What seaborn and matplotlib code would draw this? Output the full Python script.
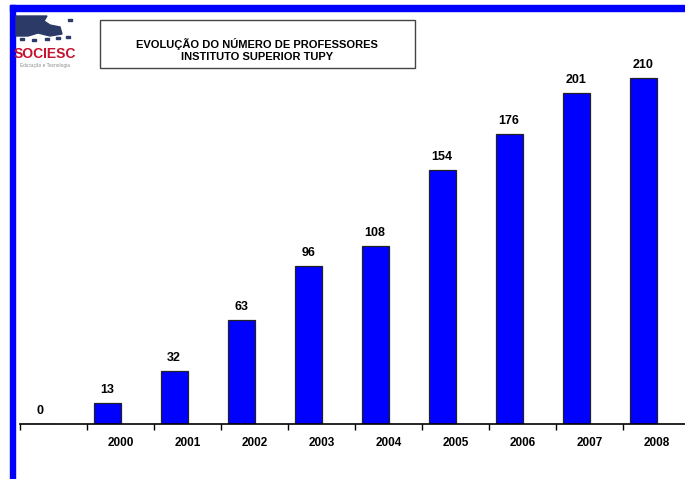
import numpy as np
import pandas as pd
import matplotlib
matplotlib.use("Agg")
import matplotlib.pyplot as plt
import matplotlib.patches as mpatches
import seaborn as sns

# --- data ---
anos = ["", "2000", "2001", "2002", "2003", "2004", "2005", "2006", "2007", "2008"]
professores = [0, 13, 32, 63, 96, 108, 154, 176, 201, 210]
# second (empty) series in the original chart pushes the bars left in each slot
vazio = [np.nan] * len(anos)

df = pd.DataFrame({
    "ano": anos * 2,
    "valor": professores + vazio,
    "serie": ["prof"] * len(anos) + ["vazio"] * len(anos),
})

sns.set_style("white")
plt.rcParams["font.family"] = ["Liberation Sans", "DejaVu Sans"]
plt.rcParams["text.color"] = "black"
plt.rcParams["xtick.color"] = "black"

W, H = 685, 479
fig = plt.figure(figsize=(W / 100, H / 100), dpi=100)

# axes in pixel terms: x from 20 to 690, zero line at y=424 (from top)
px_per_unit = 346 / 210
ymax = 240
ax_h = ymax * px_per_unit
ax = fig.add_axes([20 / W, (H - 424) / H, 670 / W, ax_h / H])

sns.barplot(data=df, x="ano", y="valor", hue="serie", order=anos,
            palette={"prof": "#0000FF", "vazio": "#0000FF"}, saturation=1,
            width=0.8, dodge=True, edgecolor="#222222", linewidth=0.9,
            legend=False, ax=ax)
ax.set_ylim(0, ymax)
ax.set_xlim(-0.5, len(anos) - 0.5)

# value labels above the visible bars
for i, v in enumerate(professores):
    ax.annotate(f"{v}", (i - 0.2, v), xytext=(0, 5), textcoords="offset points",
                ha="center", va="bottom", fontsize=9, fontweight="bold", color="black")

for s in ["top", "right", "left"]:
    ax.spines[s].set_visible(False)
ax.spines["bottom"].set_color("black")
ax.spines["bottom"].set_linewidth(1.2)
ax.set_yticks([])
ax.set_ylabel("")
ax.set_xlabel("")

# boundary ticks (major) and centred labels (minor)
ax.set_xticks(np.arange(-0.5, len(anos), 1))
ax.set_xticklabels([])
ax.tick_params(axis="x", which="major", direction="out", length=4, width=1, color="black", bottom=True)
ax.set_xticks(np.arange(len(anos)), minor=True)
ax.set_xticklabels(anos, minor=True, fontsize=8.5, fontweight="bold", color="black")
ax.tick_params(axis="x", which="minor", length=0, pad=9)

# slide frame: blue bar on top and left
fig.patches.append(mpatches.Rectangle((10 / W, (H - 11) / H), (W - 10) / W, 6 / H,
                                      transform=fig.transFigure, color="#0000FF", zorder=0))
fig.patches.append(mpatches.Rectangle((10 / W, 0), 5 / W, (H - 5) / H,
                                      transform=fig.transFigure, color="#0000FF", zorder=0))

# title box
fig.patches.append(mpatches.Rectangle((100 / W, (H - 68) / H), 315 / W, 48 / H,
                                      transform=fig.transFigure, facecolor="white",
                                      edgecolor="#444444", linewidth=1.0))
fig.text(257 / W, (H - 44.5) / H, "EVOLUÇÃO DO NÚMERO DE PROFESSORES",
         ha="center", va="center", fontsize=8, fontweight="bold", color="black")
fig.text(257 / W, (H - 57.5) / H, "INSTITUTO SUPERIOR TUPY",
         ha="center", va="center", fontsize=8, fontweight="bold", color="black")

# logo (approximation)
logo = [(16, 16), (47, 16), (44, 21), (50, 25), (60, 27), (62, 34), (50, 36),
        (38, 33), (28, 36), (16, 36)]
fig.patches.append(mpatches.Polygon([(x / W, (H - y) / H) for x, y in logo],
                                    closed=True, transform=fig.transFigure, color="#2b3a67"))
for x, y in [(22, 39), (34, 40), (47, 39), (58, 38), (68, 37), (70, 20)]:
    fig.patches.append(mpatches.Rectangle(((x - 2) / W, (H - y - 1) / H), 4 / W, 2 / H,
                                          transform=fig.transFigure, color="#2b3a67"))
fig.text(45 / W, (H - 54) / H, "SOCIESC", ha="center", va="center",
         fontsize=10, fontweight="bold", color="#c4122f")
fig.text(45 / W, (H - 65) / H, "Educação e Tecnologia", ha="center", va="center",
         fontsize=3.4, color="#8a8a8a")

fig.savefig("out.png", dpi=100)
